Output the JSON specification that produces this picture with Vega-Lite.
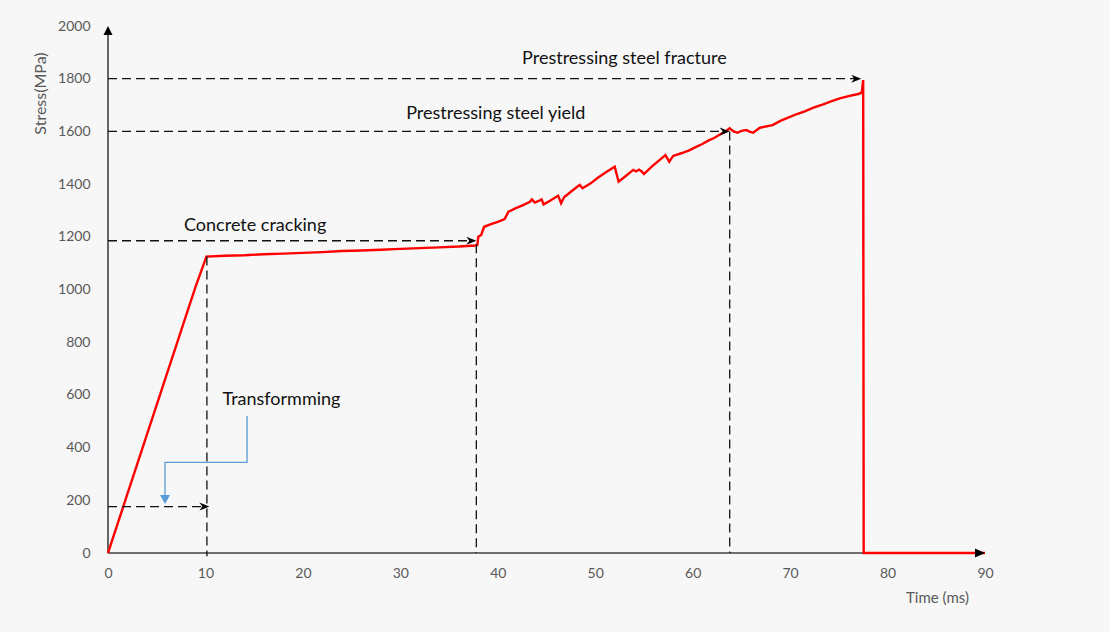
{
  "$schema": "https://vega.github.io/schema/vega-lite/v6.json",
  "width": 877,
  "height": 527,
  "autosize": {"type": "none"},
  "padding": {"left": 108, "top": 26, "right": 125, "bottom": 79},
  "background": "#f7f7f7",
  "config": {
    "view": {"stroke": null},
    "font": "Lato",
    "axis": {"titleFontWeight": "normal", "titleColor": "#595959", "labelFontSize": 14, "labelColor": "#595959"}
  },
  "datasets": {
    "curve": [
      {"t": 0, "s": 0}, {"t": 1, "s": 112}, {"t": 2, "s": 225}, {"t": 3, "s": 337}, {"t": 4, "s": 450},
      {"t": 5, "s": 562}, {"t": 6, "s": 675}, {"t": 7, "s": 787}, {"t": 8, "s": 900}, {"t": 9, "s": 1012},
      {"t": 10.1, "s": 1125}, {"t": 12, "s": 1128}, {"t": 14, "s": 1130}, {"t": 16, "s": 1134}, {"t": 18, "s": 1136},
      {"t": 20, "s": 1139}, {"t": 22, "s": 1142}, {"t": 24, "s": 1146}, {"t": 26, "s": 1148}, {"t": 28, "s": 1151},
      {"t": 30, "s": 1154}, {"t": 32, "s": 1157}, {"t": 34, "s": 1160}, {"t": 36, "s": 1163}, {"t": 37.7, "s": 1167},
      {"t": 37.9, "s": 1169}, {"t": 38.0, "s": 1200}, {"t": 38.3, "s": 1207}, {"t": 38.6, "s": 1238}, {"t": 39.3, "s": 1248},
      {"t": 40.0, "s": 1257}, {"t": 40.7, "s": 1267}, {"t": 41.1, "s": 1295}, {"t": 41.8, "s": 1308}, {"t": 42.6, "s": 1320},
      {"t": 43.3, "s": 1333}, {"t": 43.5, "s": 1342}, {"t": 43.8, "s": 1330}, {"t": 44.2, "s": 1336}, {"t": 44.5, "s": 1342},
      {"t": 44.7, "s": 1323}, {"t": 45.4, "s": 1338}, {"t": 46.2, "s": 1356}, {"t": 46.5, "s": 1327}, {"t": 46.8, "s": 1350},
      {"t": 47.6, "s": 1374}, {"t": 48.4, "s": 1397}, {"t": 48.7, "s": 1384}, {"t": 49.5, "s": 1402}, {"t": 50.3, "s": 1425},
      {"t": 51.1, "s": 1445}, {"t": 52.0, "s": 1466}, {"t": 52.4, "s": 1409}, {"t": 53.1, "s": 1430}, {"t": 53.9, "s": 1454},
      {"t": 54.2, "s": 1448}, {"t": 54.5, "s": 1455}, {"t": 54.8, "s": 1447}, {"t": 55.0, "s": 1438}, {"t": 55.8, "s": 1466},
      {"t": 56.5, "s": 1488}, {"t": 57.2, "s": 1510}, {"t": 57.6, "s": 1485}, {"t": 58.0, "s": 1507}, {"t": 58.9, "s": 1518},
      {"t": 59.7, "s": 1529}, {"t": 60.4, "s": 1542}, {"t": 61.0, "s": 1552}, {"t": 61.6, "s": 1565}, {"t": 62.2, "s": 1575},
      {"t": 62.8, "s": 1588}, {"t": 63.3, "s": 1598}, {"t": 63.8, "s": 1612}, {"t": 64.2, "s": 1600}, {"t": 64.6, "s": 1595},
      {"t": 65.0, "s": 1602}, {"t": 65.5, "s": 1605}, {"t": 65.9, "s": 1598}, {"t": 66.2, "s": 1595}, {"t": 66.9, "s": 1614},
      {"t": 68.2, "s": 1624}, {"t": 69.0, "s": 1640}, {"t": 69.8, "s": 1652}, {"t": 70.7, "s": 1666}, {"t": 71.5, "s": 1676},
      {"t": 72.4, "s": 1690}, {"t": 73.4, "s": 1703}, {"t": 74.2, "s": 1714}, {"t": 75.1, "s": 1725}, {"t": 76.0, "s": 1734},
      {"t": 77.0, "s": 1742}, {"t": 77.35, "s": 1747}, {"t": 77.5, "s": 1795}, {"t": 77.55, "s": 0}, {"t": 90, "s": 0}
    ],
    "axes": [
      {"x1": 0, "y1": 0, "x2": 0, "y2": 1985},
      {"x1": 0, "y1": 0, "x2": 89, "y2": 0}
    ],
    "dashes": [
      {"x1": 0, "y1": 1800, "x2": 77.0, "y2": 1800},
      {"x1": 0, "y1": 1600, "x2": 63.6, "y2": 1600},
      {"x1": 63.8, "y1": 1600, "x2": 63.8, "y2": 0},
      {"x1": 0, "y1": 1185, "x2": 37.6, "y2": 1185},
      {"x1": 37.8, "y1": 1172, "x2": 37.8, "y2": 0},
      {"x1": 10.15, "y1": 1125, "x2": 10.15, "y2": -12},
      {"x1": 0, "y1": 176, "x2": 10.2, "y2": 176}
    ],
    "arrows": [
      {"t": 77.3, "s": 1800}, {"t": 63.8, "s": 1600}, {"t": 37.8, "s": 1185}, {"t": 10.4, "s": 176}
    ],
    "axisArrows": [
      {"t": 90, "s": 0, "dir": "right"}, {"t": 0, "s": 2000, "dir": "up"}
    ],
    "blue": [
      {"t": 14.27, "s": 520}, {"t": 14.27, "s": 344}, {"t": 5.85, "s": 344}, {"t": 5.85, "s": 205}
    ],
    "labels": [
      {"t": 53.0, "s": 1874, "text": "Prestressing steel fracture"},
      {"t": 39.8, "s": 1665, "text": "Prestressing steel yield"},
      {"t": 15.1, "s": 1241, "text": "Concrete cracking"},
      {"t": 17.8, "s": 581, "text": "Transformming"}
    ]
  },
  "layer": [
    {
      "data": {"name": "axes"},
      "mark": {"type": "rule", "color": "#404040", "strokeWidth": 1.6},
      "encoding": {
        "x": {"field": "x1", "type": "quantitative", "scale": {"domain": [0, 90], "nice": false},
          "axis": {"values": [0, 10, 20, 30, 40, 50, 60, 70, 80, 90], "format": "d", "domain": false, "ticks": false, "grid": false,
            "labelPadding": 13, "labelFlush": false, "titleFontSize": 15,
            "title": "Time (ms)", "titleX": 829, "titleY": 44, "titleBaseline": "middle", "titleAlign": "center"}},
        "y": {"field": "y1", "type": "quantitative", "scale": {"domain": [0, 2000], "nice": false},
          "axis": {"values": [0, 200, 400, 600, 800, 1000, 1200, 1400, 1600, 1800, 2000], "format": "d", "domain": false, "ticks": false, "grid": false,
            "labelPadding": 18, "labelFlush": false, "titleFontSize": 16, "titleLimit": 300,
            "title": "Stress(MPa)", "titleX": -68, "titleY": 67, "titleBaseline": "middle", "titleAlign": "center", "titleAngle": -90}},
        "x2": {"field": "x2"},
        "y2": {"field": "y2"}
      }
    },
    {
      "data": {"name": "curve"},
      "mark": {"type": "line", "color": "#ff0000", "strokeWidth": 2.4},
      "encoding": {
        "x": {"field": "t", "type": "quantitative"},
        "y": {"field": "s", "type": "quantitative"},
        "order": {"value": null}
      }
    },
    {
      "data": {"name": "dashes"},
      "mark": {"type": "rule", "color": "#111111", "strokeWidth": 1.3, "strokeDash": [9, 5]},
      "encoding": {
        "x": {"field": "x1", "type": "quantitative"},
        "y": {"field": "y1", "type": "quantitative"},
        "x2": {"field": "x2"},
        "y2": {"field": "y2"}
      }
    },
    {
      "data": {"name": "arrows"},
      "mark": {"type": "point", "shape": "M0,0 L-2,-0.8 L-1.4,0 L-2,0.8 Z", "filled": true, "color": "#000000", "size": 100, "opacity": 1},
      "encoding": {
        "x": {"field": "t", "type": "quantitative"},
        "y": {"field": "s", "type": "quantitative"}
      }
    },
    {
      "data": {"name": "axisArrows"},
      "mark": {"type": "point", "filled": true, "color": "#000000", "size": 100, "opacity": 1},
      "encoding": {
        "x": {"field": "t", "type": "quantitative"},
        "y": {"field": "s", "type": "quantitative"},
        "shape": {"field": "dir", "type": "nominal", "legend": null,
          "scale": {"domain": ["right", "up"], "range": ["M0,0 L-2,-0.9 L-2,0.9 Z", "M0,0 L-0.9,1.8 L0.9,1.8 Z"]}}
      }
    },
    {
      "data": {"name": "blue"},
      "mark": {"type": "line", "color": "#5b9bd5", "strokeWidth": 1.3},
      "encoding": {
        "x": {"field": "t", "type": "quantitative"},
        "y": {"field": "s", "type": "quantitative"},
        "order": {"value": null}
      }
    },
    {
      "data": {"values": [{"t": 5.85, "s": 186}]},
      "mark": {"type": "point", "shape": "M0,0 L-1,-1.8 L1,-1.8 Z", "filled": true, "color": "#5b9bd5", "size": 100, "opacity": 1},
      "encoding": {
        "x": {"field": "t", "type": "quantitative"},
        "y": {"field": "s", "type": "quantitative"}
      }
    },
    {
      "data": {"name": "labels"},
      "mark": {"type": "text", "fontSize": 18, "color": "#111111", "align": "center", "baseline": "middle"},
      "encoding": {
        "x": {"field": "t", "type": "quantitative"},
        "y": {"field": "s", "type": "quantitative"},
        "text": {"field": "text"}
      }
    }
  ]
}
